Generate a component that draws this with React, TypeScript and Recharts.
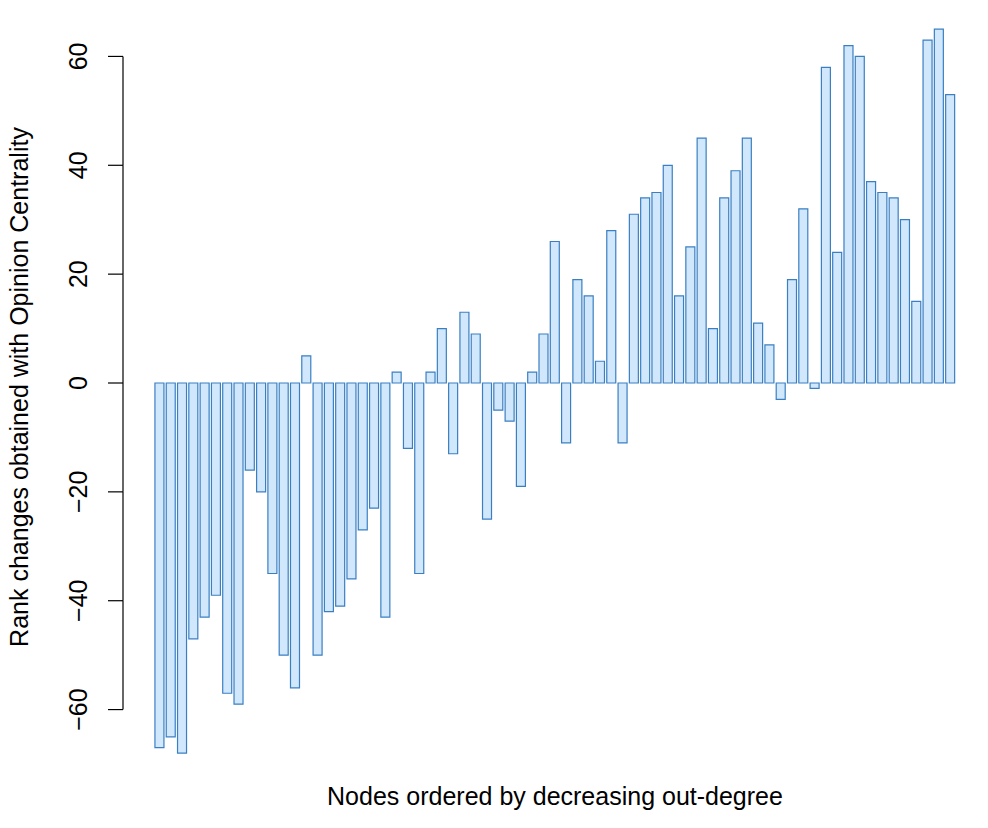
import { BarChart, Bar, XAxis, YAxis } from 'recharts';

// rank change of each node, nodes sorted by decreasing out-degree
const rankChanges = [
  -67, -65, -68, -47, -43, -39, -57, -59, -16, -20,
  -35, -50, -56, 5, -50, -42, -41, -36, -27, -23,
  -43, 2, -12, -35, 2, 10, -13, 13, 9, -25,
  -5, -7, -19, 2, 9, 26, -11, 19, 16, 4,
  28, -11, 31, 34, 35, 40, 16, 25, 45, 10,
  34, 39, 45, 11, 7, -3, 19, 32, -1, 58,
  24, 62, 60, 37, 35, 34, 30, 15, 63, 65,
  53,
];
const nodes = rankChanges.map((_, i) => `n${i + 1}`);
const yTicks = [-60, -40, -20, 0, 20, 40, 60];

const data = nodes.map((node, i) => ({ node, change: rankChanges[i] }));

const W = 988;
const H = 828;
const TOP = 2;
const X_AXIS_H = 64;
const Y_MIN = -70;
const Y_MAX = 70;
const PX_PER_UNIT = (H - TOP - X_AXIS_H) / (Y_MAX - Y_MIN);
const TICK_STEP = 20 * PX_PER_UNIT;
const AXIS_X = 123;
const FONT = '"Liberation Sans", Arial, Helvetica, sans-serif';
const FONT_SIZE = 25;

// R-style axis: tick + rotated label, and a spine that only spans the tick range
function YTick(props: any) {
  const { y, payload } = props;
  const v = payload.value;
  const label = v < 0 ? `\u2212${Math.abs(v)}` : String(v);
  return (
    <g>
      <line x1={AXIS_X - 15} y1={y} x2={AXIS_X} y2={y} stroke="#000" strokeWidth={1.2} />
      {v > yTicks[0] && (
        <line x1={AXIS_X} y1={y} x2={AXIS_X} y2={y + TICK_STEP} stroke="#000" strokeWidth={1.2} />
      )}
      <text
        x={87}
        y={y}
        transform={`rotate(-90, 87, ${y})`}
        textAnchor="middle"
        fontSize={FONT_SIZE}
        fontFamily={FONT}
        fill="#000"
      >
        {label}
      </text>
    </g>
  );
}

function YTitle() {
  const cy = 387;
  return (
    <text
      x={28}
      y={cy}
      transform={`rotate(-90, 28, ${cy})`}
      textAnchor="middle"
      fontSize={FONT_SIZE}
      fontFamily={FONT}
      fill="#000"
    >
      Rank changes obtained with Opinion Centrality
    </text>
  );
}

function XTitle(props: any) {
  const vb = props.viewBox || {};
  return (
    <text
      x={vb.x + vb.width / 2}
      y={805}
      textAnchor="middle"
      fontSize={FONT_SIZE}
      fontFamily={FONT}
      fill="#000"
    >
      Nodes ordered by decreasing out-degree
    </text>
  );
}

export default function App() {
  return (
    <div style={{ position: 'absolute', left: 0, top: 0, width: W, height: H, background: '#fff' }}>
      <BarChart
        width={W}
        height={H}
        data={data}
        margin={{ top: TOP, right: 32, bottom: 0, left: 0 }}
        barCategoryGap="8.33%"
      >
        <XAxis
          dataKey="node"
          tick={false}
          tickLine={false}
          axisLine={false}
          height={X_AXIS_H}
          label={<XTitle />}
        />
        <YAxis
          width={154}
          domain={[Y_MIN, Y_MAX]}
          ticks={yTicks}
          axisLine={false}
          tickLine={false}
          tick={<YTick />}
          label={<YTitle />}
        />
        <Bar
          dataKey="change"
          fill="#d1e8fc"
          stroke="#3b7fc2"
          strokeWidth={1.2}
          isAnimationActive={false}
        />
      </BarChart>
    </div>
  );
}
